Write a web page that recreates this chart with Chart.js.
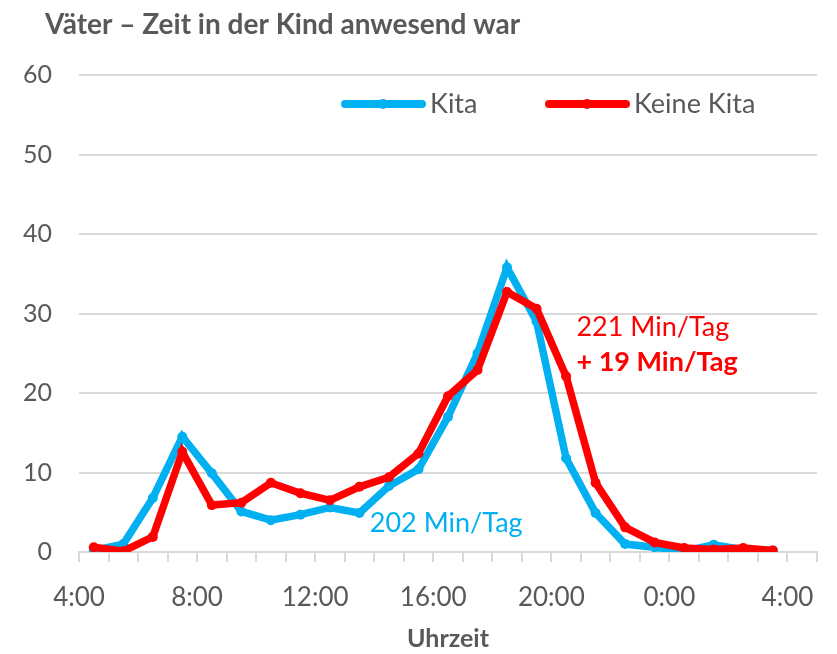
<!DOCTYPE html>
<html>
<head>
<meta charset="utf-8">
<script src="https://cdn.jsdelivr.net/npm/chart.js@4/dist/chart.umd.min.js"></script>
<style>
  body { margin: 0; background: #fff; }
  #wrap { width: 837px; height: 654px; }
</style>
</head>
<body>
<div id="wrap"><canvas id="chart" width="837" height="654"></canvas></div>
<script>
// Uhrzeit (Stunden ab 4:00, Punkte jeweils zur halben Stunde)
const hours = [4.5, 5.5, 6.5, 7.5, 8.5, 9.5, 10.5, 11.5, 12.5, 13.5, 14.5, 15.5,
  16.5, 17.5, 18.5, 19.5, 20.5, 21.5, 22.5, 23.5, 24.5, 25.5, 26.5, 27.5];
const kita = [0.2, 1.0, 6.8, 14.5, 9.9, 5.1, 4.0, 4.7, 5.6, 4.9, 8.3, 10.4,
  17.0, 25.0, 35.8, 29.0, 11.8, 4.9, 1.0, 0.6, 0.1, 0.9, 0.3, 0.2];
const keineKita = [0.6, 0.1, 1.9, 12.6, 5.9, 6.2, 8.7, 7.4, 6.5, 8.2, 9.4, 12.4,
  19.6, 22.9, 32.7, 30.6, 22.1, 8.7, 3.1, 1.2, 0.5, 0.3, 0.5, 0.2];
const xTickLabels = ["4:00", "8:00", "12:00", "16:00", "20:00", "0:00", "4:00"];
const yTicks = [0, 10, 20, 30, 40, 50, 60];

const BLUE = "#00b0f0";
const RED = "#ff0000";
const GREY = "#595959";
const FONT = "Lato, 'Open Sans', sans-serif";

// Beschriftungen im Diagramm (Datenkoordinaten)
const notes = [
  { text: "202 Min/Tag", x: 13.85, y: 3.6, color: BLUE, bold: false },
  { text: "221 Min/Tag", x: 20.85, y: 28.3, color: RED, bold: false },
  { text: "+ 19 Min/Tag", x: 20.85, y: 23.8, color: RED, bold: true },
];

const extras = {
  id: "extras",
  afterDraw(c) {
    const ctx = c.ctx;
    const xs = c.scales.x, ys = c.scales.y;
    ctx.save();
    // Titel
    ctx.fillStyle = GREY;
    ctx.font = "bold 28px " + FONT;
    ctx.textBaseline = "middle";
    ctx.textAlign = "left";
    ctx.fillText("Väter – Zeit in der Kind anwesend war", 45, 25);

    // Legende
    const items = [
      { ds: c.data.datasets[0], x0: 345 },
      { ds: c.data.datasets[1], x0: 549 },
    ];
    const ly = 104;
    items.forEach((it) => {
      ctx.strokeStyle = it.ds.borderColor;
      ctx.lineWidth = 8;
      ctx.lineCap = "round";
      ctx.beginPath();
      ctx.moveTo(it.x0, ly);
      ctx.lineTo(it.x0 + 77, ly);
      ctx.stroke();
      ctx.fillStyle = it.ds.borderColor;
      ctx.beginPath();
      ctx.arc(it.x0 + 38, ly, 5, 0, Math.PI * 2);
      ctx.fill();
      ctx.fillStyle = GREY;
      ctx.font = "27px " + FONT;
      ctx.fillText(it.ds.label, it.x0 + 85, ly);
    });

    // Hinweise
    notes.forEach((n) => {
      ctx.fillStyle = n.color;
      ctx.font = (n.bold ? "bold " : "") + "27px " + FONT;
      ctx.fillText(n.text, xs.getPixelForValue(n.x), ys.getPixelForValue(n.y));
    });
    ctx.restore();
  },
};

new Chart(document.getElementById("chart"), {
  type: "line",
  data: {
    datasets: [
      {
        label: "Kita",
        data: hours.map((h, i) => ({ x: h, y: kita[i] })),
        borderColor: BLUE,
        backgroundColor: BLUE,
        borderWidth: 7.5,
        pointRadius: 5,
        pointBorderWidth: 0,
        tension: 0,
        order: 2,
      },
      {
        label: "Keine Kita",
        data: hours.map((h, i) => ({ x: h, y: keineKita[i] })),
        borderColor: RED,
        backgroundColor: RED,
        borderWidth: 7.5,
        pointRadius: 5,
        pointBorderWidth: 0,
        tension: 0,
        order: 1,
      },
    ],
  },
  options: {
    responsive: false,
    animation: false,
    layout: { padding: { top: 75, right: 14, bottom: 0, left: 0 } },
    plugins: {
      legend: { display: false },
      tooltip: { enabled: false },
    },
    scales: {
      x: {
        type: "linear",
        min: 4,
        max: 29,
        afterFit: (s) => { s.height = 102; },
        ticks: {
          stepSize: 1,
          autoSkip: false,
          maxRotation: 0,
          padding: 20,
          color: GREY,
          font: { family: FONT, size: 26 },
          callback: (v) => ((v - 4) % 4 === 0 ? xTickLabels[(v - 4) / 4] : ""),
        },
        grid: { drawOnChartArea: false, tickLength: 10, color: "#d9d9d9", lineWidth: 2 },
        border: { color: "#d9d9d9", width: 2 },
        title: {
          display: true,
          text: "Uhrzeit",
          color: GREY,
          font: { family: FONT, size: 25, weight: "bold" },
          padding: { top: 0, bottom: 0 },
        },
      },
      y: {
        min: 0,
        max: 60,
        afterFit: (s) => { s.width = 79; },
        afterBuildTicks: (s) => { s.ticks = yTicks.map((v) => ({ value: v })); },
        ticks: {
          padding: 27,
          color: GREY,
          font: { family: FONT, size: 25 },
        },
        grid: { drawTicks: false, color: "#d9d9d9", lineWidth: 2 },
        border: { display: false },
      },
    },
  },
  plugins: [extras],
});
</script>
</body>
</html>
